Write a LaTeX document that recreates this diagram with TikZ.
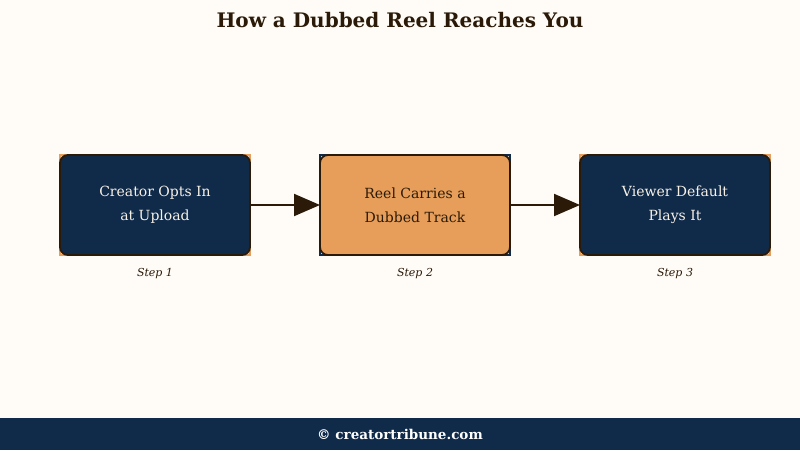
\documentclass[tikz,border=0pt]{standalone}
\usepackage{fontspec}
\setmainfont{DejaVu Serif}
\usepackage{xcolor}
\definecolor{navy}{HTML}{102A4A}
\definecolor{amber}{HTML}{E79E5A}
\definecolor{ink}{HTML}{2B1A08}
\definecolor{paper}{HTML}{FFFCF7}
\definecolor{cream}{HTML}{F8F2E6}
\usepackage{tikz}
\usetikzlibrary{arrows.meta, positioning}
\pgfdeclarelayer{under}
\pgfsetlayers{under,main}

\tikzset{
  stepbox/.style={draw=ink, line width=1.8pt, rounded corners=8pt, outer sep=0pt,
    minimum width=190pt, minimum height=100pt, align=center,
    font=\fontsize{14}{24}\selectfont},
  darkstep/.style={stepbox, fill=navy, text=cream},
  lightstep/.style={stepbox, fill=amber, text=ink},
  steplabel/.style={font=\fontsize{11}{13}\selectfont\itshape, text=ink},
  flow/.style={draw=ink, line width=2pt, -{Triangle[length=26pt, width=22pt]}}
}

\begin{document}
\begin{tikzpicture}[x=1pt, y=-1pt]
  \begin{pgfonlayer}{under}
    \fill[paper] (0,0) rectangle (800,450);
  \end{pgfonlayer}
  \useasboundingbox (0,0) rectangle (800,450);

  % title
  \node[font=\fontsize{20}{24}\selectfont\bfseries, text=ink] (title) at (400,20) {How a Dubbed Reel Reaches You};

  % the three steps
  \node[darkstep] (creator) at (155,205) {Creator Opts In\\at Upload};
  \node[lightstep, right=70pt of creator] (reel) {Reel Carries a\\Dubbed Track};
  \node[darkstep, right=70pt of reel] (viewer) {Viewer Default\\Plays It};

  % corner accents
  \begin{pgfonlayer}{under}
    \draw[amber, line width=2pt] (creator.north west) rectangle (creator.south east);
    \draw[navy, line width=2pt] (reel.north west) rectangle (reel.south east);
    \draw[amber, line width=2pt] (viewer.north west) rectangle (viewer.south east);
  \end{pgfonlayer}

  \node[steplabel, below=10pt of creator] (s1) {Step 1};
  \node[steplabel, below=10pt of reel] (s2) {Step 2};
  \node[steplabel, below=10pt of viewer] (s3) {Step 3};

  % connectors
  \draw[flow] (creator) -- (reel);
  \draw[flow] (reel) -- (viewer);

  % footer
  \fill[navy] (0,418) rectangle (800,450);
  \node[font=\fontsize{13.5}{15}\selectfont\bfseries, text=white] (footer) at (400,434) {© creatortribune.com};
\end{tikzpicture}
\end{document}
